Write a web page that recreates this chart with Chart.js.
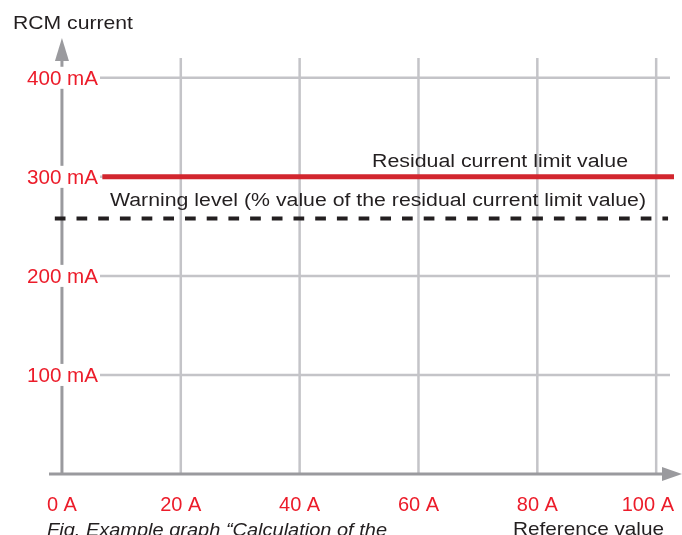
<!DOCTYPE html>
<html>
<head>
<meta charset="utf-8">
<script src="https://cdn.jsdelivr.net/npm/chart.js@4.4.1/dist/chart.umd.min.js"></script>
<style>
  html, body { margin: 0; padding: 0; background: #fff; }
  canvas { display: block; }
</style>
</head>
<body>
<canvas id="rcmChart" width="682" height="535"></canvas>
<script>
const xTicks = [0, 20, 40, 60, 80, 100];
const xTickLabels = ["0 A", "20 A", "40 A", "60 A", "80 A", "100 A"];
const yTicks = [100, 200, 300, 400];
const yTickLabels = ["100 mA", "200 mA", "300 mA", "400 mA"];

// residual current limit (solid red) and warning level (dashed black)
const limitX = [6.8, 103];
const limitY = [300, 300];
const warningX = [-1.2, 102];
const warningY = [258, 258];

const limitLabel = "Residual current limit value";
const warningLabel = "Warning level (% value of the residual current limit value)";
const yTitle = "RCM current";
const xTitle = "Reference value";
const caption = "Fig. Example graph \u201cCalculation of the";

const RED_TEXT = "#ec1c2a";
const RED_LINE = "#d2262e";
const GRID = "#c4c4c8";
const AXIS = "#9a9a9e";
const INK = "#231f20";
const FONT = '"Liberation Sans", Arial, sans-serif';

function toPoints(xs, ys) {
  return xs.map((v, i) => ({ x: v, y: ys[i] }));
}

function line(ctx, x1, y1, x2, y2) {
  ctx.beginPath();
  ctx.moveTo(x1, y1);
  ctx.lineTo(x2, y2);
  ctx.stroke();
}

// text is drawn a bit wider than the font, like in the original print
function drawText(ctx, text, x, y, size, color, opts = {}) {
  ctx.save();
  ctx.font = `${opts.italic ? "italic " : ""}${size}px ${FONT}`;
  const natural = ctx.measureText(text).width;
  const sx = opts.width ? opts.width / natural : (opts.sx || 1);
  const w = natural * sx;
  let left = x;
  if (opts.align === "right") left = x - w;
  if (opts.align === "center") left = x - w / 2;
  if (opts.maxRight && left + w > opts.maxRight) left = opts.maxRight - w;
  if (opts.backdrop) {
    ctx.fillStyle = "#fff";
    ctx.fillRect(left - 2, y - size * 0.72 - 4, w + 4, size * 0.72 + 8);
  }
  ctx.fillStyle = color;
  ctx.textBaseline = "alphabetic";
  ctx.textAlign = "left";
  ctx.translate(left, y);
  ctx.scale(sx, 1);
  ctx.fillText(text, 0, 0);
  ctx.restore();
}

const backdrop = {
  id: "backdrop",
  beforeDatasetsDraw(chart) {
    const { ctx, chartArea } = chart;
    const { x, y } = chart.scales;
    const x0 = x.getPixelForValue(0);
    const y0 = y.getPixelForValue(0);

    ctx.save();
    ctx.strokeStyle = GRID;
    ctx.lineWidth = 2.5;
    xTicks.forEach(v => {
      if (v === 0) return;
      const px = x.getPixelForValue(v);
      line(ctx, px, chartArea.top, px, y0);
    });
    yTicks.forEach(v => {
      const py = y.getPixelForValue(v);
      line(ctx, 100, py, 670, py);
    });

    // axes with arrow heads
    ctx.strokeStyle = AXIS;
    ctx.fillStyle = AXIS;
    ctx.lineWidth = 3;
    line(ctx, x0, y0, x0, 58);
    ctx.beginPath();
    ctx.moveTo(x0 - 7, 61);
    ctx.lineTo(x0 + 7, 61);
    ctx.lineTo(x0, 38);
    ctx.closePath();
    ctx.fill();
    line(ctx, 49, y0, 664, y0);
    ctx.beginPath();
    ctx.moveTo(662, y0 - 7);
    ctx.lineTo(662, y0 + 7);
    ctx.lineTo(682, y0);
    ctx.closePath();
    ctx.fill();
    ctx.restore();

    yTicks.forEach((v, i) => {
      const py = y.getPixelForValue(v);
      drawText(ctx, yTickLabels[i], 98, py + 7, 19.5, RED_TEXT, { align: "right", width: 71, backdrop: true });
    });
    xTicks.forEach((v, i) => {
      drawText(ctx, xTickLabels[i], x.getPixelForValue(v), 511, 20, RED_TEXT, { align: "center", maxRight: 674 });
    });

    drawText(ctx, yTitle, 13, 28.5, 19, INK, { width: 120 });
    drawText(ctx, xTitle, 513, 534.5, 19, INK, { width: 151 });
    drawText(ctx, caption, 47, 536, 19, INK, { width: 340, italic: true });
  },
  afterDatasetsDraw(chart) {
    const { ctx } = chart;
    drawText(ctx, limitLabel, 372, 166.5, 18.8, INK, { width: 256 });
    drawText(ctx, warningLabel, 110, 205.5, 18.8, INK, { width: 536 });
  }
};

new Chart(document.getElementById("rcmChart"), {
  type: "line",
  data: {
    datasets: [
      {
        label: limitLabel,
        data: toPoints(limitX, limitY),
        borderColor: RED_LINE,
        borderWidth: 5,
        pointRadius: 0,
        borderCapStyle: "butt"
      },
      {
        label: warningLabel,
        data: toPoints(warningX, warningY),
        borderColor: INK,
        borderWidth: 4,
        borderDash: [10.7, 11],
        pointRadius: 0,
        borderCapStyle: "butt"
      }
    ]
  },
  options: {
    responsive: false,
    animation: false,
    devicePixelRatio: 1,
    clip: false,
    layout: { padding: { left: 56, right: 8, top: 58, bottom: 61 } },
    scales: {
      x: { type: "linear", min: -1, max: 103, display: false },
      y: { type: "linear", min: 0, max: 420, display: false }
    },
    plugins: {
      legend: { display: false },
      tooltip: { enabled: false }
    }
  },
  plugins: [backdrop]
});
</script>
</body>
</html>
